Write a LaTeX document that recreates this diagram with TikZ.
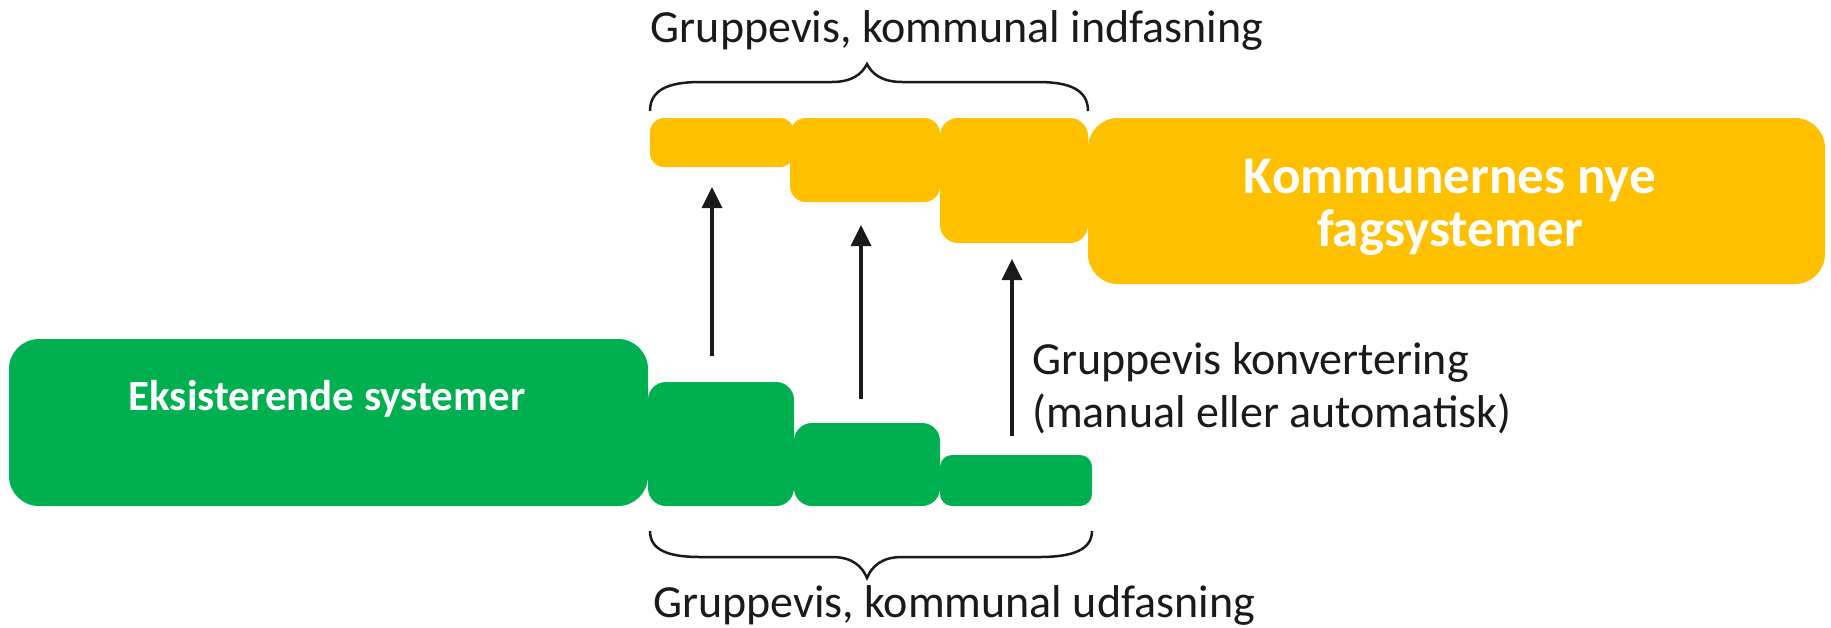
\documentclass[tikz,border=0pt]{standalone}
\usepackage{fontspec}
\setmainfont{Carlito}
\usetikzlibrary{arrows.meta}
\definecolor{ylw}{HTML}{FFC000}
\definecolor{grn}{HTML}{00B050}
\definecolor{ink}{HTML}{1A1A1A}
\tikzset{
  blk/.style={inner sep=0pt, outer sep=0pt, draw=none},
  gbox/.style={blk, fill=grn},
  ybox/.style={blk, fill=ylw},
  lbl/.style={inner sep=0pt, text=ink, font=\fontsize{46}{53}\selectfont},
  bigtxt/.style={inner sep=0pt, text=white, font=\bfseries\fontsize{53}{53}\selectfont, align=center},
  conv/.style={draw=ink, line width=3.5pt, -{Triangle[width=20pt,length=21pt]}},
  brc/.style={draw=ink, line width=2.5pt}
}
\begin{document}
\begin{tikzpicture}[x=1pt,y=-1pt]
\useasboundingbox (0,0) rectangle (1831,627);
% green blocks
\node[gbox, rounded corners=30pt, minimum width=639pt, minimum height=167pt] (gbig) at (328.5,422.5) {};
\node[gbox, rounded corners=18pt, minimum width=146pt, minimum height=124pt] (g1) at (721,444) {};
\node[gbox, rounded corners=18pt, minimum width=146pt, minimum height=83pt] (g2) at (867,464.5) {};
\node[gbox, rounded corners=12pt, minimum width=152pt, minimum height=51pt] (g3) at (1016,480.5) {};
% yellow blocks
\node[ybox, rounded corners=14pt, minimum width=144pt, minimum height=49pt] (y1) at (722,142.5) {};
\node[ybox, rounded corners=16pt, minimum width=150pt, minimum height=84pt] (y2) at (865,160) {};
\node[ybox, rounded corners=18pt, minimum width=148pt, minimum height=125pt] (y3) at (1014,180.5) {};
\node[ybox, rounded corners=30pt, minimum width=737pt, minimum height=166pt] (ybig) at (1456.5,201) {};
% texts in blocks
\node[inner sep=0pt, text=white, font=\bfseries\fontsize{43}{43}\selectfont] (gtxt) at (327,399) {Eksisterende systemer};
\node[bigtxt] (ytxt) at (1450,207) {Kommunernes nye\\fagsystemer};
% labels
\node[lbl] (top) at (957,30) {Gruppevis, kommunal indfasning};
\node[lbl] (bot) at (954,605) {Gruppevis, kommunal udfasning};
\node[lbl, anchor=west, align=left] (convlbl) at (1032,388) {Gruppevis konvertering\\(manual eller automatisk)};
% arrows
\coordinate (a1s) at (712,356); \coordinate (a1e) at (712,187);
\coordinate (a2s) at (861,399); \coordinate (a2e) at (861,225);
\coordinate (a3s) at (1012,436); \coordinate (a3e) at (1012,259);
\draw[conv] (a1s) -- (a1e);
\draw[conv] (a2s) -- (a2e);
\draw[conv] (a3s) -- (a3e);
% braces
\path[brc] (650,111) .. controls (650,90) and (668,82) .. (700,82) -- (832,82)
  .. controls (852,82) and (862,74) .. (867,64)
  .. controls (872,74) and (882,82) .. (902,82) -- (1038,82)
  .. controls (1070,82) and (1088,90) .. (1088,111);
\path[brc] (650,531) .. controls (650,550) and (668,557) .. (700,557) -- (832,557)
  .. controls (852,557) and (862,566) .. (867,578)
  .. controls (872,566) and (882,557) .. (902,557) -- (1040,557)
  .. controls (1072,557) and (1092,550) .. (1092,531);
\end{tikzpicture}
\end{document}
